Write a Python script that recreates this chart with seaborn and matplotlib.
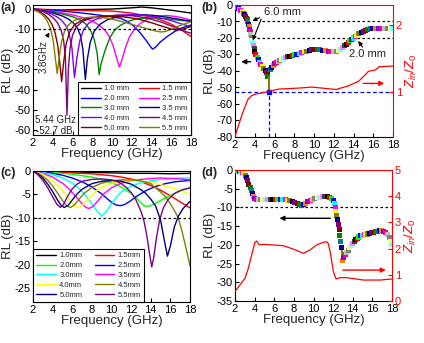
import numpy as np
import pandas as pd
import matplotlib
matplotlib.use("Agg")
import matplotlib.pyplot as plt
import seaborn as sns
from matplotlib.lines import Line2D

# ---------------- panel (a): RL curves, thickness 1.0-5.5 mm ----------------
a_labels = ["1.0 mm", "1.5 mm", "2.0 mm", "2.5 mm", "3.0 mm",
            "3.5 mm", "4.0 mm", "4.5 mm", "5.0 mm", "5.5 mm"]
a_f10 = [2, 4, 6, 8, 10, 12, 13, 14, 16, 18]
a_rl10 = [-0.4, -0.4, -0.3, -0.2, 0.0, 0.6, 1.0, 0.6, -0.6, -2.0]
a_f15 = [2, 4, 6, 8, 10, 12, 13, 14, 15, 16, 17, 18]
a_rl15 = [0.0, -0.3, -0.6, -0.8, -1.0, -2.0, -3.0, -4.0, -5.5, -7.5, -10.3, -13.6]
a_f20 = [2, 3, 4, 5, 6, 7, 8, 9, 10, 10.87, 11.5, 12.2, 12.8, 13.4, 13.8, 14.1,
         14.4, 14.9, 15.6, 16.3, 17, 18]
a_rl20 = [0.0, -0.3, -0.6, -1.0, -1.5, -2.0, -2.6, -3.2, -3.9, -4.6, -6.0, -8.5,
          -11.5, -15.2, -18.0, -19.9, -19.0, -16.3, -13.6, -11.3, -9.5, -7.9]
a_f25 = [2, 3, 4, 5, 6, 7, 7.8, 8.4, 8.9, 9.3, 9.7, 10.1, 10.45, 10.75, 11.05,
         11.4, 11.8, 12.3, 12.9, 13.6, 14.5, 15.5, 16.5, 17.3, 18]
a_rl25 = [0.0, -0.5, -1.1, -1.9, -2.9, -4.2, -5.6, -7.1, -8.8, -10.6, -13.5, -18.0,
          -24.0, -28.8, -24.5, -18.5, -13.5, -9.8, -7.0, -5.0, -3.6, -3.2, -3.7,
          -4.6, -5.5]
a_f30 = [2, 3, 4, 5, 6, 6.7, 7.3, 7.8, 8.2, 8.5, 8.7, 8.9, 9.3, 9.8, 10.3, 10.9,
         11.6, 12.3, 13.2, 14.5, 15.5, 16.5, 17.3, 18]
a_rl30 = [0.0, -0.7, -1.5, -2.5, -3.8, -5.2, -7.2, -10.3, -15.0, -22.0, -32.5,
          -27.0, -20.5, -14.0, -10.3, -7.9, -6.2, -5.1, -4.5, -4.4, -4.8, -5.4,
          -5.8, -6.1]
a_f35 = [2, 3, 4, 5, 5.6, 6.1, 6.5, 6.8, 7.05, 7.3, 7.5, 7.8, 8.2, 8.8, 9.5, 10.5,
         11.5, 12.5, 13.5, 14.5, 15.5, 16.5, 17.3, 18]
a_rl35 = [0.0, -0.8, -1.9, -3.5, -5.0, -7.0, -9.5, -13.0, -20.0, -35.0, -25.0,
          -16.5, -11.0, -7.5, -5.4, -3.9, -3.2, -2.9, -2.9, -3.3, -4.0, -4.8,
          -5.5, -6.0]
a_f40 = [2, 3, 3.8, 4.4, 4.9, 5.3, 5.65, 5.95, 6.2, 6.45, 6.75, 7.1, 7.6, 8.3,
         9.2, 10.5, 12, 13.5, 15, 16, 17, 18]
a_rl40 = [0.0, -1.0, -2.3, -3.8, -5.6, -8.0, -12.0, -19.5, -34.0, -24.0, -15.5,
          -10.5, -7.2, -5.2, -4.0, -3.1, -2.8, -3.2, -4.5, -5.8, -7.3, -8.8]
a_f45 = [2, 3, 3.6, 4.1, 4.5, 4.85, 5.1, 5.28, 5.44, 5.58, 5.75, 6.0, 6.4, 7.0,
         7.8, 9, 10.5, 12, 13.5, 15, 16, 17, 18]
a_rl45 = [0.0, -1.3, -2.7, -4.6, -7.0, -10.5, -15.5, -24.0, -52.7, -30.0, -19.5,
          -13.0, -8.8, -6.2, -4.6, -3.6, -3.1, -3.3, -4.4, -6.5, -8.4, -10.5, -12.0]
a_f50 = [2, 2.7, 3.2, 3.6, 3.95, 4.25, 4.5, 4.7, 4.9, 5.1, 5.35, 5.7, 6.2, 7.0, 8,
         9.5, 11, 12.5, 14, 15, 16, 16.6, 17.3, 18]
a_rl50 = [-0.2, -1.4, -3.0, -5.0, -7.8, -12.0, -18.0, -26.0, -36.0, -26.5, -17.5,
          -11.5, -7.8, -5.4, -4.2, -3.6, -3.8, -4.8, -6.8, -8.4, -9.9, -10.4, -9.8,
          -8.6]
a_f55 = [2, 2.5, 3.0, 3.4, 3.8, 4.05, 4.25, 4.45, 4.65, 4.9, 5.2, 5.6, 6.2, 7, 8,
         9, 10, 11, 12, 13, 14, 14.5, 15, 15.5, 16, 17, 18]
a_rl55 = [-0.3, -1.3, -3.0, -5.5, -10.0, -16.0, -24.0, -32.0, -24.0, -16.0, -11.0,
          -7.8, -5.6, -4.4, -4.0, -4.2, -5.0, -6.2, -7.6, -9.0, -10.4, -11.0, -11.4,
          -11.0, -10.0, -8.0, -6.3]
a_peak_f = 5.44
a_peak_rl = -52.7
a_cross_f = 3.8

# ---------------- panel (b): RL minimum locus and Zin/Z0 ----------------
b_f = [2.00, 2.12, 2.24, 2.36, 2.48, 2.60, 2.72, 2.84, 2.96, 3.06, 3.15, 3.23,
       3.30, 3.36, 3.42, 3.48, 3.54, 3.60, 3.66, 3.72, 3.78, 3.85, 3.93, 4.02,
       4.12, 4.23, 4.35, 4.48, 4.62, 4.76, 4.90, 5.04, 5.16, 5.26, 5.34,
       5.55, 5.70, 5.85, 6.00, 6.18, 6.36, 6.55, 6.75, 6.95, 7.15, 7.35, 7.55,
       7.78, 8.00, 8.25, 8.50, 8.75, 9.00, 9.25, 9.50, 9.78, 10.05, 10.32,
       10.60, 10.88, 11.15, 11.42, 11.70, 11.98, 12.25, 12.50, 12.72, 12.92,
       13.10, 13.28, 13.45, 13.62, 13.80, 13.98, 14.16, 14.35, 14.55, 14.76,
       14.98, 15.20, 15.45, 15.70, 15.97, 16.25, 16.55, 16.85, 17.15, 17.45,
       17.75, 18.00]
b_rl = [-0.3, -0.8, -1.4, -2.0, -2.7, -3.4, -4.1, -4.9, -5.8, -6.8, -7.9, -9.0,
        -10.2, -11.6, -13.1, -14.7, -16.3, -17.9, -19.6, -21.3, -23.0, -24.8,
        -26.6, -28.4, -30.1, -31.7, -33.2, -34.6, -35.9, -37.1, -38.3, -39.5,
        -40.7, -42.0, -43.4,
        -39.0, -37.8, -36.6, -35.6, -34.8, -34.1, -33.5, -33.0, -32.5, -32.0,
        -31.5, -31.0, -30.6, -30.2, -29.7, -29.2, -28.7, -28.3, -27.9, -27.5,
        -27.2, -27.0, -26.9, -27.1, -27.4, -27.7, -28.0, -28.2, -28.2, -27.9,
        -27.4, -26.7, -25.8, -24.8, -23.8, -22.8, -21.8, -20.9, -20.0, -19.1,
        -18.2, -17.3, -16.5, -15.8, -15.2, -14.7, -14.4, -14.2, -14.1, -14.0,
        -14.0, -14.0, -14.0, -14.0, -14.0]
b_zf = [2.0, 2.7, 3.3, 3.72, 4.06, 5.41, 6.42, 8.45, 9.8, 10.8, 11.8, 12.3, 12.7,
        13.5, 14.5, 15.2, 15.5, 16.2, 16.6, 16.9, 18.0]
b_z = [0.34, 0.66, 0.89, 0.95, 0.97, 1.01, 1.045, 1.06, 1.075, 1.06, 1.045,
       1.04, 1.06, 1.094, 1.16, 1.26, 1.31, 1.33, 1.38, 1.38, 1.39]

# ---------------- panel (c): RL curves, second sample ----------------
c_labels = ["1.0mm", "1.5mm", "2.0mm", "2.5mm", "3.0mm",
            "3.5mm", "4.0mm", "4.5mm", "5.0mm", "5.5mm"]
c_f10 = [2, 4, 6, 8, 10, 12, 14, 16, 18]
c_rl10 = [0.0, -0.1, -0.2, -0.3, -0.4, -0.5, -0.5, -0.6, -0.5]
c_f15 = [2, 4, 6, 8, 10, 11, 12, 13, 14, 15, 16, 17, 18]
c_rl15 = [0.0, -0.2, -0.4, -0.6, -1.0, -1.3, -1.7, -2.3, -3.1, -4.1, -5.3, -6.6, -7.9]
c_f20 = [2, 4, 6, 8, 9, 10, 11, 12, 12.6, 13.1, 13.5, 14, 14.5, 15, 16, 17, 18]
c_rl20 = [0.0, -0.3, -0.7, -1.3, -1.8, -2.5, -3.4, -4.8, -5.9, -7.0, -7.6, -7.4,
          -6.9, -6.3, -5.2, -4.3, -3.6]
c_f25 = [2, 3, 4, 5, 6, 7, 8, 9, 9.5, 10, 10.5, 10.9, 11.3, 11.8, 12.5, 13.5,
         14.5, 15.5, 16.5, 17.5, 18]
c_rl25 = [0.0, -0.2, -0.5, -0.9, -1.5, -2.3, -3.4, -4.9, -5.8, -6.7, -7.3, -7.4,
          -7.2, -6.6, -5.5, -4.2, -3.3, -2.7, -2.3, -2.1, -2.0]
c_f30 = [2, 3, 4, 5, 6, 6.5, 7, 7.5, 8, 8.5, 9, 9.5, 10, 10.5, 11, 12, 13, 14,
         15, 16, 17, 18]
c_rl30 = [0.0, -0.3, -0.8, -1.5, -2.6, -3.4, -4.4, -5.6, -7.0, -8.5, -9.7, -8.6,
          -7.0, -5.6, -4.5, -3.2, -2.5, -2.1, -1.8, -1.6, -1.5, -1.5]
c_f35 = [2, 3, 4, 5, 5.5, 6, 6.5, 7, 7.4, 7.7, 8.1, 8.6, 9.2, 10, 11, 12, 13, 14,
         15, 16, 17, 18]
c_rl35 = [0.0, -0.5, -1.3, -2.6, -3.5, -4.6, -5.8, -7.0, -7.8, -8.0, -7.6, -6.4,
          -4.9, -3.6, -2.6, -2.1, -1.8, -1.6, -1.5, -1.6, -1.7, -1.9]
c_f40 = [2, 3, 3.5, 4, 4.5, 5, 5.5, 6, 6.3, 6.6, 7, 7.5, 8, 8.5, 9, 10, 11, 12,
         13, 14, 15, 16, 17, 18]
c_rl40 = [0.0, -0.7, -1.3, -2.0, -3.0, -4.2, -5.5, -6.8, -7.5, -7.8, -7.4, -6.4,
          -5.2, -4.2, -3.5, -2.6, -2.2, -2.1, -2.2, -2.5, -2.9, -3.5, -4.2, -5.0]
c_f45 = [2, 2.5, 3, 3.5, 4, 4.5, 5, 5.4, 5.8, 6.2, 6.7, 7.2, 8, 9, 10, 11, 12,
         13, 14, 15, 15.5, 16, 16.5, 16.8, 17.2, 17.6, 18]
c_rl45 = [0.0, -0.5, -1.1, -2.0, -3.2, -4.7, -6.3, -7.4, -7.8, -7.3, -6.0, -4.8,
          -3.5, -2.6, -2.1, -1.9, -1.9, -2.1, -2.7, -4.5, -5.5, -7.0, -8.8, -10.0,
          -13.0, -16.5, -20.3]
c_f50 = [2, 2.5, 3, 3.5, 4, 4.5, 4.9, 5.2, 5.6, 6, 6.5, 7, 8, 9, 10, 11, 12,
         12.5, 13, 13.5, 14, 14.5, 15.0, 15.4, 15.7, 16.0, 16.4, 16.8, 17.3, 18]
c_rl50 = [0.0, -0.6, -1.5, -2.8, -4.4, -6.2, -7.4, -7.8, -7.3, -6.2, -4.9, -3.9,
          -2.7, -2.2, -2.0, -2.2, -2.8, -3.4, -4.0, -4.8, -6.0, -7.5, -10.5, -15.0,
          -18.2, -16.0, -12.0, -9.7, -8.0, -6.5]
c_f55 = [2, 2.5, 3, 3.5, 4, 4.4, 4.8, 5.1, 5.5, 6, 6.5, 7, 8, 9, 10, 10.5, 11,
         11.5, 12, 12.5, 13, 13.3, 13.6, 13.9, 14.1, 14.3, 14.6, 14.9, 15.3, 15.8,
         16.5, 17.2, 18]
c_rl55 = [0.0, -0.8, -2.0, -3.6, -5.5, -7.0, -7.8, -7.2, -5.5, -3.8, -2.8, -2.2,
          -1.8, -1.7, -1.9, -2.2, -2.7, -3.5, -4.6, -6.2, -8.6, -10.6, -13.8,
          -18.0, -20.5, -18.5, -14.0, -10.5, -7.8, -6.0, -4.7, -4.0, -3.6]

# ---------------- panel (d): RL minimum locus and Zin/Z0 ----------------
d_f = [2.00, 2.15, 2.30, 2.45, 2.60, 2.75, 2.90, 3.05, 3.18, 3.30, 3.42, 3.54,
       3.66, 3.78, 3.90, 4.02, 4.15, 4.35, 4.60, 4.85, 5.10, 5.35, 5.60, 5.85,
       6.10, 6.35, 6.60, 6.85, 7.10, 7.35, 7.60, 7.85, 8.10, 8.35, 8.55, 8.75,
       8.95, 9.15, 9.40, 9.65, 9.90, 10.15, 10.40, 10.65, 10.90, 11.15, 11.40,
       11.65, 11.85, 12.00, 12.10, 12.20, 12.28, 12.36, 12.44, 12.52, 12.60,
       12.68, 12.76, 12.84,
       12.97, 13.10, 13.25, 13.40, 13.55, 13.70, 13.85, 14.00, 14.15, 14.30,
       14.45, 14.60, 14.78, 14.96, 15.15, 15.35, 15.55, 15.75, 15.95, 16.15,
       16.35, 16.55, 16.75, 16.95, 17.15, 17.35, 17.55, 17.72, 17.88, 18.00]
d_rl = [0.0, -0.1, -0.2, -0.3, -0.4, -0.6, -0.9, -1.4, -2.1, -2.9, -3.8, -4.7,
        -5.6, -6.4, -7.1, -7.6, -7.8, -7.9, -7.9, -7.9, -7.9, -7.9, -7.9, -7.9,
        -7.9, -7.9, -7.9, -8.0, -8.0, -8.1, -8.2, -8.4, -8.7, -9.0, -9.3, -9.5,
        -9.3, -8.9, -8.5, -8.1, -7.8, -7.6, -7.4, -7.3, -7.2, -7.2, -7.2, -7.3,
        -7.6, -8.2, -9.0, -10.0, -11.0, -12.1, -13.3, -14.6, -16.0, -17.5,
        -19.0, -20.6,
        -24.3, -23.4, -22.6, -22.0, -21.4, -20.8, -20.2, -19.6, -19.1, -18.6,
        -18.2, -17.9, -17.6, -17.4, -17.3, -17.2, -17.1, -17.0, -16.8, -16.6,
        -16.4, -16.3, -16.2, -16.2, -16.3, -16.7, -17.3, -18.1, -19.0, -20.0]
d_zf = [2.0, 2.5, 3.02, 3.36, 3.7, 4.04, 4.2, 4.48, 4.9, 5.9, 6.93, 7.95, 8.97,
        9.65, 10.33, 11.0, 11.36, 11.5, 11.7, 12.03, 12.3, 12.7, 13.4, 15.1,
        16.8, 18.0]
d_z = [0.36, 0.61, 0.87, 1.25, 1.76, 2.24, 2.29, 2.14, 2.16, 2.14, 2.11, 1.98,
       1.82, 1.95, 2.14, 2.24, 2.26, 2.2, 1.88, 1.12, 0.84, 0.89, 0.89, 0.80,
       0.80, 0.84]

# ---------------- styling ----------------
sns.set_theme(style="ticks")
plt.rcParams.update({
    "font.family": ["Liberation Sans", "DejaVu Sans"],
    "axes.unicode_minus": False,
    "mathtext.fontset": "custom",
    "mathtext.rm": "Liberation Sans",
    "mathtext.it": "Liberation Sans:italic",
    "axes.linewidth": 0.8,
    "axes.edgecolor": "black",
    "xtick.direction": "in", "ytick.direction": "in",
    "xtick.major.size": 3, "ytick.major.size": 3,
    "xtick.major.width": 0.8, "ytick.major.width": 0.8,
    "xtick.labelsize": 8, "ytick.labelsize": 8,
    "xtick.major.pad": 2, "ytick.major.pad": 1.5,
    "axes.labelsize": 9.5, "axes.labelpad": 0.5,
    "xtick.color": "black", "ytick.color": "black",
})

a_colors = ["#000000", "#FF0000", "#0000FF", "#FF00FF", "#008000",
            "#000080", "#8000FF", "#800080", "#800000", "#808000"]
c_colors = ["#000000", "#FF0000", "#00FF00", "#0000FF", "#00FFFF",
            "#FF00FF", "#FFFF00", "#808000", "#000080", "#800080"]
origin_cycle = ["#000000", "#FF0000", "#00FF00", "#0000FF", "#00FFFF", "#FF00FF",
                "#FFFF00", "#808000", "#000080", "#800080", "#800000", "#008000",
                "#008080", "#0000A0", "#FF8000", "#8000FF", "#FF0080", "#C0C0C0",
                "#808080", "#FFFF80", "#80FFFF", "#FF80FF", "#404040"]

W, H = 424, 343
fig = plt.figure(figsize=(W / 100, H / 100), dpi=100)


def add_px_axes(left, top, right, bottom):
    return fig.add_axes([left / W, 1 - bottom / H, (right - left) / W, (bottom - top) / H])


ax_a = add_px_axes(33, 5, 191, 135)
ax_b = add_px_axes(235, 5, 393, 137)
ax_c = add_px_axes(33, 171, 190, 302)
ax_d = add_px_axes(235, 170, 392, 301)


def draw_family(ax, labels, freqs, rls, colors):
    frames = [pd.DataFrame({"Frequency": f, "RL": r, "d": lab})
              for lab, f, r in zip(labels, freqs, rls)]
    df = pd.concat(frames, ignore_index=True)
    sns.lineplot(data=df, x="Frequency", y="RL", hue="d",
                 palette=dict(zip(labels, colors)), estimator=None, sort=False,
                 lw=1.0, ax=ax, legend=False)


def family_legend(ax, labels, colors, loc, anchor, colspace):
    order = [0, 2, 4, 6, 8, 1, 3, 5, 7, 9]
    handles = [Line2D([], [], color=colors[i], lw=1.0) for i in order]
    leg = ax.legend(handles, [labels[i] for i in order], ncol=2, loc=loc,
                    bbox_to_anchor=anchor, fontsize=5.5, handlelength=2.6,
                    handletextpad=0.4, columnspacing=colspace, labelspacing=0.32,
                    borderpad=0.45, borderaxespad=0, frameon=True, fancybox=False,
                    framealpha=1)
    leg.get_frame().set_edgecolor("black")
    leg.get_frame().set_linewidth(0.8)


def finish_axes(ax, ylim, yticks):
    ax.set_xlim(2, 18)
    ax.set_xticks(range(2, 19, 2))
    ax.set_ylim(*ylim)
    ax.set_yticks(yticks)
    ax.set_xlabel("Frequency (GHz)")
    ax.set_ylabel("RL (dB)")


dotted = (0, (2, 2))

# (a)
draw_family(ax_a, a_labels,
            [a_f10, a_f15, a_f20, a_f25, a_f30, a_f35, a_f40, a_f45, a_f50, a_f55],
            [a_rl10, a_rl15, a_rl20, a_rl25, a_rl30, a_rl35, a_rl40, a_rl45, a_rl50, a_rl55],
            a_colors)
ax_a.axhline(-10, color="black", ls=dotted, lw=0.9)
finish_axes(ax_a, (-62.5, 2), range(0, -61, -10))
family_legend(ax_a, a_labels, a_colors, "lower right", (1, 0), 1.3)
ax_a.annotate("", xy=(a_cross_f, -10.4), xytext=(3.4, -13.8),
              arrowprops=dict(arrowstyle="-|>", color="black", lw=0.8, mutation_scale=6))
ax_a.text(3.07, -23.5, f"{a_cross_f}GHz", rotation=90, fontsize=7,
          ha="center", va="center")
ax_a.text(2.2, -55.2, f"{a_peak_f:.2f} GHz", fontsize=7, ha="left", va="center")
ax_a.text(2.3, -60.4, f"{a_peak_rl:.1f} dB", fontsize=7, ha="left", va="center")

# (b)
marker_cols = [origin_cycle[i % len(origin_cycle)] for i in range(len(b_f))]
sns.scatterplot(x=b_f, y=b_rl, hue=[str(i) for i in range(len(b_f))],
                palette=marker_cols, marker="s", s=13, linewidth=0, legend=False,
                ax=ax_b, zorder=3)
ax_b.plot([a_peak_f, a_peak_f], [b_rl[34], a_peak_rl], color="#808000", lw=1.5, zorder=3)
ax_b.plot([a_peak_f], [a_peak_rl], marker="s", ms=3.5, color="#0000FF", zorder=4)
ax_b.axhline(a_peak_rl, color="#0000FF", ls=(0, (3, 2)), lw=0.9)
ax_b.plot([a_peak_f, a_peak_f], [-80, a_peak_rl], color="#0000FF", ls=(0, (3, 2)), lw=0.9)
ax_b.plot([4.7, 18], [-10, -10], color="black", ls=dotted, lw=0.9)
ax_b.plot([4.2, 18], [-20, -20], color="black", ls=dotted, lw=0.9)
finish_axes(ax_b, (-80, 0), range(0, -81, -10))
ax_b.text(6.8, -4.2, "6.0 mm", fontsize=8, ha="center", va="center")
for tip in [(3.5, -10.4), (3.7, -23.0)]:
    ax_b.annotate("", xy=tip, xytext=(4.75, -7.0),
                  arrowprops=dict(arrowstyle="-|>", color="black", lw=0.8, mutation_scale=6))
ax_b.text(15.4, -29.5, "2.0 mm", fontsize=8, ha="center", va="center")
ax_b.annotate("", xy=(14.3, -20.5), xytext=(15.1, -26.8),
              arrowprops=dict(arrowstyle="-|>", color="black", lw=0.8, mutation_scale=6))
ax_b.annotate("", xy=(2.35, -34.4), xytext=(3.85, -34.4),
              arrowprops=dict(arrowstyle="-|>", color="black", lw=1.0, mutation_scale=7))
ax_b2 = ax_b.twinx()
sns.lineplot(x=b_zf, y=b_z, color="red", lw=0.9, sort=False, estimator=None, ax=ax_b2)
ax_b2.set_ylim(0.33, 2.3)
ax_b2.set_yticks([1, 2])
ax_b2.annotate("", xy=(17.4, 1.13), xytext=(14.7, 1.13),
               arrowprops=dict(arrowstyle="-|>", color="red", lw=1.0, mutation_scale=7))

# (c)
draw_family(ax_c, c_labels,
            [c_f10, c_f15, c_f20, c_f25, c_f30, c_f35, c_f40, c_f45, c_f50, c_f55],
            [c_rl10, c_rl15, c_rl20, c_rl25, c_rl30, c_rl35, c_rl40, c_rl45, c_rl50, c_rl55],
            c_colors)
ax_c.axhline(-10, color="black", ls=dotted, lw=0.9)
finish_axes(ax_c, (-28, 0), range(0, -26, -5))
family_legend(ax_c, c_labels, c_colors, "lower left", (0, 0), 1.6)

# (d)
marker_cols_d = [origin_cycle[i % len(origin_cycle)] for i in range(len(d_f))]
sns.scatterplot(x=d_f, y=d_rl, hue=[str(i) for i in range(len(d_f))],
                palette=marker_cols_d, marker="s", s=13, linewidth=0, legend=False,
                ax=ax_d, zorder=3)
ax_d.plot([12.88, 12.88], [d_rl[59], d_rl[60]], color="#808000", lw=1.5, zorder=2)
ax_d.axhline(-10, color="black", ls=dotted, lw=0.9)
finish_axes(ax_d, (-35, 0), range(0, -36, -5))
ax_d.annotate("", xy=(6.25, -12.9), xytext=(12.0, -12.9),
              arrowprops=dict(arrowstyle="-|>", color="black", lw=1.0, mutation_scale=7))
ax_d2 = ax_d.twinx()
sns.lineplot(x=d_zf, y=d_z, color="red", lw=0.9, sort=False, estimator=None, ax=ax_d2)
ax_d2.set_ylim(0, 5)
ax_d2.set_yticks(range(0, 6))
ax_d2.annotate("", xy=(17.65, 1.18), xytext=(12.7, 1.18),
               arrowprops=dict(arrowstyle="-|>", color="red", lw=1.0, mutation_scale=7))

for main, twin in [(ax_b, ax_b2), (ax_d, ax_d2)]:
    main.spines["top"].set_visible(False)
    main.spines["right"].set_visible(False)
    twin.spines["left"].set_visible(False)
    twin.spines["bottom"].set_visible(False)
    twin.spines["right"].set_color("red")
    twin.spines["top"].set_color("red")
    twin.tick_params(axis="y", colors="red", direction="in", length=3, pad=2)
    twin.set_ylabel(r"$Z_{in}/Z_0$", color="red", labelpad=1)

for ax in [ax_a, ax_c]:
    for s in ax.spines.values():
        s.set_visible(True)
        s.set_color("black")

for txt, x, y in [("(a)", 0, 8), ("(b)", 201, 8), ("(c)", 0, 173), ("(d)", 201, 173)]:
    fig.text(x / W, 1 - y / H, txt, fontsize=9, fontweight="bold", ha="left", va="center")

fig.savefig("out.png", dpi=100)
